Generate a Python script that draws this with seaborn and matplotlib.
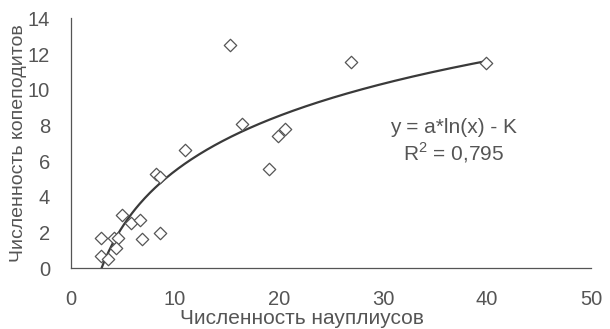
import numpy as np
import pandas as pd
import matplotlib
matplotlib.use("Agg")
import matplotlib.pyplot as plt
import seaborn as sns

# Data
nauplii = [2.9, 2.9, 3.6, 4.1, 4.5, 4.3, 4.9, 5.8, 6.6, 6.8, 8.2, 8.6, 8.6,
           11.0, 15.3, 16.4, 19.0, 19.9, 20.6, 26.9, 39.9]
copepodites = [1.7, 0.65, 0.5, 1.7, 1.7, 1.1, 3.0, 2.5, 2.7, 1.6, 5.25, 5.1, 1.95,
               6.6, 12.5, 8.1, 5.55, 7.4, 7.8, 11.55, 11.5]
fit_a = 4.45
fit_K = 4.8
x_ticks = [0, 10, 20, 30, 40, 50]
y_ticks = [0, 2, 4, 6, 8, 10, 12, 14]
eq_text = "y = a*ln(x) - K"
r2_text = "R$^2$ = 0,795"

sns.set_theme(style="white")
plt.rcParams['font.family'] = ['Liberation Sans', 'DejaVu Sans']
plt.rcParams['mathtext.fontset'] = 'custom'
plt.rcParams['mathtext.rm'] = 'Liberation Sans'

df = pd.DataFrame({"x": nauplii, "y": copepodites})
xs = np.linspace(min(nauplii), max(nauplii), 300)
fit = pd.DataFrame({"x": xs, "y": fit_a * np.log(xs) - fit_K})

txt = "#555555"
fig = plt.figure(figsize=(6.1, 3.29), dpi=100)
ax = fig.add_axes([0.1164, 0.1854, 0.8526, 0.7586])

sns.lineplot(data=fit, x="x", y="y", ax=ax, color="#3a3a3a", linewidth=1.6)
sns.scatterplot(data=df, x="x", y="y", ax=ax, marker="D", s=40,
                facecolor="white", edgecolor="#555555", linewidth=0.9, zorder=3)

ax.set_xlim(0, 50)
ax.set_ylim(0, 14)
ax.set_xticks(x_ticks)
ax.set_yticks(y_ticks)
ax.set_xticklabels([str(t) for t in x_ticks], fontsize=14.5, color=txt)
ax.set_yticklabels([str(t) for t in y_ticks], fontsize=14.5, color=txt)
ax.tick_params(axis="y", direction="out", length=4, width=0.8, color="#555555", pad=11)
ax.tick_params(axis="x", direction="out", length=5, width=0.8, color="#555555", pad=11)
ax.set_xlabel("Численность науплиусов", fontsize=15, color=txt)
ax.set_ylabel("Численность копеподитов", fontsize=14, color=txt)
ax.xaxis.set_label_coords(0.444, -0.165)
ax.yaxis.set_label_coords(-0.085, 0.5)

for side in ["top", "right"]:
    ax.spines[side].set_visible(False)
for side in ["left", "bottom"]:
    ax.spines[side].set_color("#555555")
    ax.spines[side].set_linewidth(0.9)

ax.text(0.743, 0.611, eq_text, transform=fig.transFigure, ha="center", va="center",
        fontsize=15, color=txt)
ax.text(0.743, 0.535, r2_text, transform=fig.transFigure, ha="center", va="center",
        fontsize=15, color=txt)

fig.savefig("out.png", dpi=100)
